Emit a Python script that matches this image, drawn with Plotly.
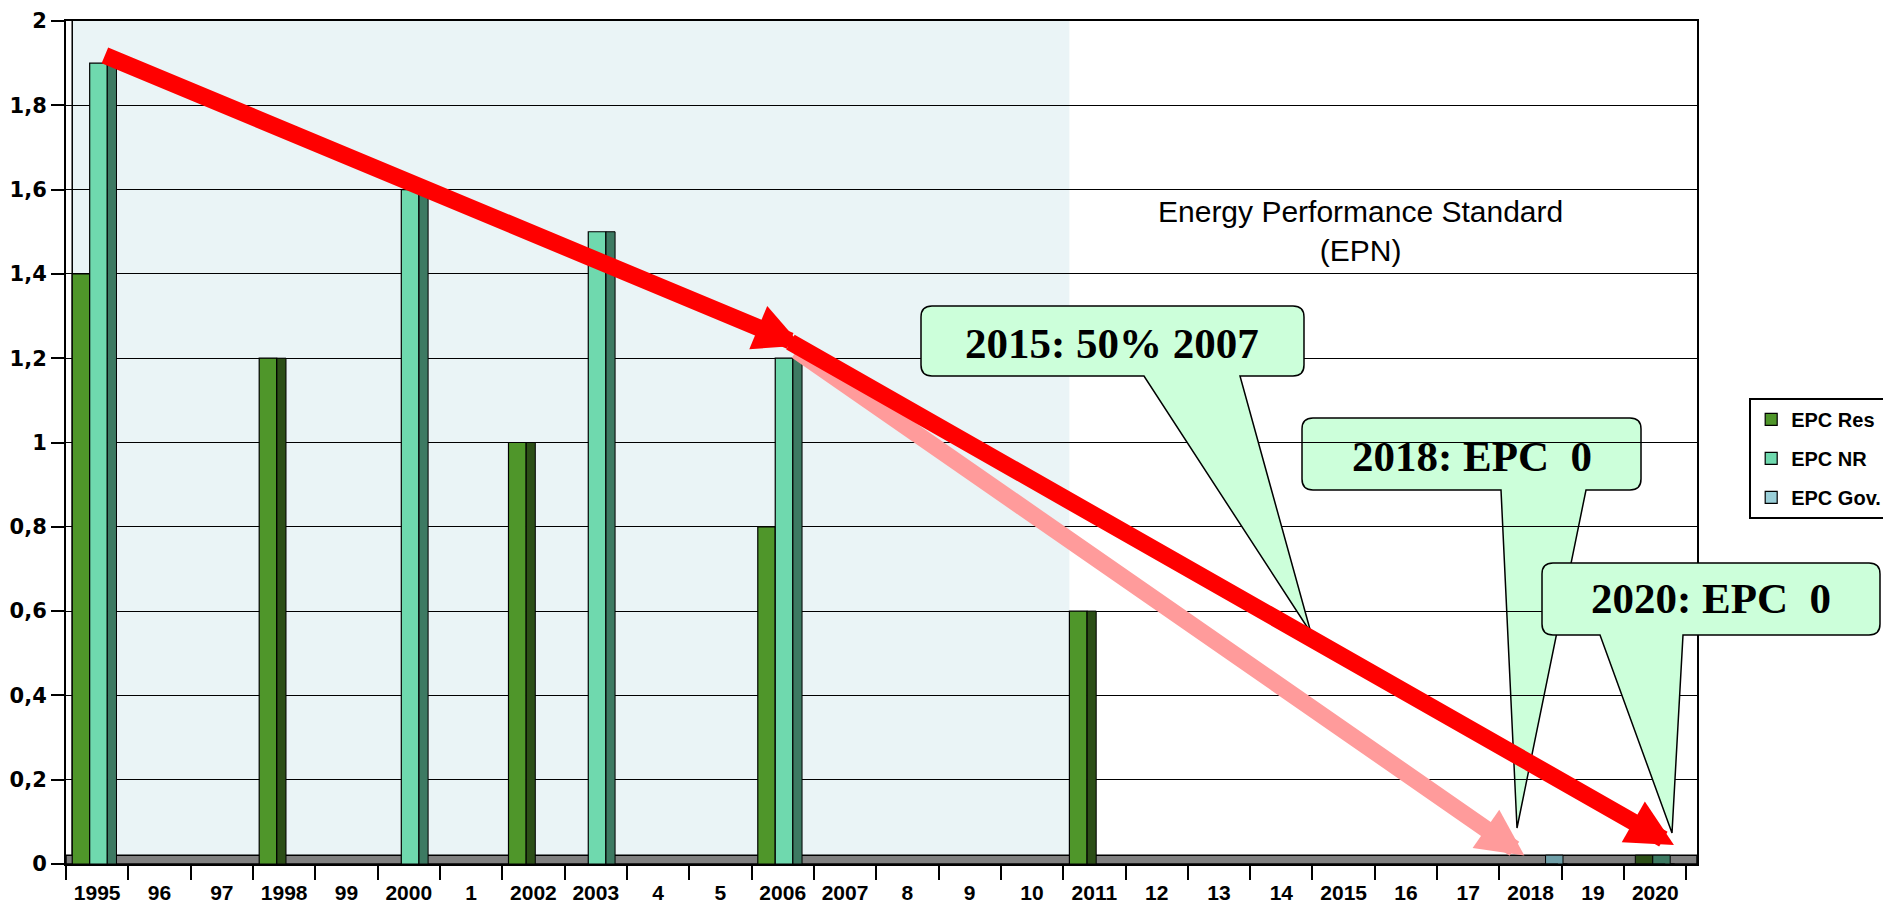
import plotly.graph_objects as go

# categories and labels
years = list(range(1995, 2021))
tick_labels = ["1995", "96", "97", "1998", "99", "2000", "1", "2002", "2003", "4", "5",
               "2006", "2007", "8", "9", "10", "2011", "12", "13", "14", "2015", "16",
               "17", "2018", "19", "2020"]

# series values (None = no bar, 0 = zero bar on the floor)
epc_res = [1.4, None, None, 1.2, None, None, None, 1.0, None, None, None, 0.8, None,
           None, None, None, 0.6, None, None, None, None, None, None, None, None, 0]
epc_nr = [1.9, None, None, None, None, 1.6, None, None, 1.5, None, None, 1.2, None,
          None, None, None, None, None, None, None, None, None, None, None, None, 0]
epc_gov = [None, None, None, None, None, None, None, None, None, None, None, None, None,
           None, None, None, None, None, None, None, None, None, None, 0, None, None]

series = [
    ("EPC Res", epc_res, "#4F962A", "#2C4F17", -0.40),
    ("EPC NR", epc_nr, "#6FD9AE", "#3D7A62", -0.12),
    ("EPC Gov.", epc_gov, "#9ACFD8", "#6F9FA8", 0.16),
]
BAR_W = 0.28
SIDE_W = 0.15
FLOOR = 0.021

fig = go.Figure()

for name, vals, face, side, off in series:
    # dark side of the 3d bar
    fig.add_trace(go.Bar(x=years, y=vals, offset=off + BAR_W, width=SIDE_W,
                         marker=dict(color=side, line=dict(color="black", width=1)),
                         showlegend=False, hoverinfo="skip"))
    # zero values only show as a patch on the floor
    patch = [FLOOR if v == 0 else None for v in vals]
    fig.add_trace(go.Bar(x=years, y=patch, base=0, offset=off + 0.08, width=BAR_W,
                         marker=dict(color=side, line=dict(color="black", width=1)),
                         showlegend=False, hoverinfo="skip"))

for name, vals, face, side, off in series:
    fig.add_trace(go.Bar(x=years, y=vals, name=name, offset=off, width=BAR_W,
                         legendgroup=name,
                         marker=dict(color=face, line=dict(color="black", width=1.2))))

# pixel frame of the plot area, used to place the callouts in paper units
L, R, T, B = 66, 1697, 21, 864


def px(x, y):
    return (x - L) / (R - L), (B - y) / (B - T)


def bubble(x0, y0, x1, y1, bx0, bx1, tx, ty, r=11):
    pts = [("M", x0 + r, y0), ("L", x1 - r, y0), ("Q", x1, y0, x1, y0 + r),
           ("L", x1, y1 - r), ("Q", x1, y1, x1 - r, y1), ("L", bx1, y1),
           ("L", tx, ty), ("L", bx0, y1), ("L", x0 + r, y1),
           ("Q", x0, y1, x0, y1 - r), ("L", x0, y0 + r), ("Q", x0, y0, x0 + r, y0)]
    out = ""
    for p in pts:
        cmd, coords = p[0], p[1:]
        s = []
        for i in range(0, len(coords), 2):
            a, b = px(coords[i], coords[i + 1])
            s.append(f"{a:.5f},{b:.5f}")
        out += cmd + " ".join(s) + " "
    return out + "Z"


shapes = [
    # light blue back wall part
    dict(type="rect", xref="x", yref="y", x0=1994.6, x1=2010.6, y0=0, y1=2,
         fillcolor="#EAF4F6", line=dict(width=0), layer="below"),
    # floor
    dict(type="rect", xref="x", yref="y", x0=1994.5, x1=2020.67, y0=0, y1=FLOOR,
         fillcolor="#808080", line=dict(color="black", width=1.5), layer="between"),
    dict(type="line", xref="x", yref="y", x0=1994.6, x1=1994.6, y0=FLOOR, y1=2,
         line=dict(color="black", width=1.5), layer="between"),
    # callouts
    dict(type="path", xref="paper", yref="paper",
         path=bubble(921, 306, 1304, 376, 1144, 1240, 1311, 633),
         fillcolor="#CCFFDA", line=dict(color="black", width=1.5), layer="above"),
    dict(type="path", xref="paper", yref="paper",
         path=bubble(1302, 418, 1641, 490, 1501, 1586, 1517, 828),
         fillcolor="#CCFFDA", line=dict(color="black", width=1.5), layer="below"),
    dict(type="path", xref="paper", yref="paper",
         path=bubble(1542, 563, 1880, 635, 1600, 1683, 1672, 833),
         fillcolor="#CCFFDA", line=dict(color="black", width=1.5), layer="above"),
]

callout_font = dict(family="Liberation Serif, Times New Roman", size=43, color="black", weight="bold")
annotations = []
for text, cx, cy in [("2015: 50% 2007", 1112, 343),
                     ("2018: EPC\u00a0 0", 1472, 456),
                     ("2020: EPC\u00a0 0", 1711, 598)]:
    ax_, ay_ = px(cx, cy)
    annotations.append(dict(text=text, x=ax_, y=ay_, xref="paper", yref="paper",
                            xanchor="center", yanchor="middle", showarrow=False,
                            font=callout_font))

ex, ey = px(1360, 231)
annotations.append(dict(text="Energy Performance Standard<br>(EPN)", x=ex, y=ey,
                        xref="paper", yref="paper", xanchor="center", yanchor="middle",
                        showarrow=False,
                        font=dict(family="Liberation Sans, Arial", size=30, color="black")))

# trend arrows (tail -> head, in data units)
arrows = [
    ((2006.2, 1.22), (2017.9, 0.02), "#FF9B9B"),
    ((2006.1, 1.24), (2020.3, 0.045), "#FF0000"),
    ((1995.1, 1.92), (2006.3, 1.23), "#FF0000"),
]
for (x0, y0), (x1, y1), col in arrows:
    annotations.append(dict(x=x1, y=y1, ax=x0, ay=y0, xref="x", yref="y",
                            axref="x", ayref="y", text="", showarrow=True,
                            arrowhead=2, arrowsize=0.55, arrowwidth=17,
                            arrowcolor=col, standoff=0, startstandoff=0))

bounds = [y - 0.5 for y in years] + [years[-1] + 0.5]

fig.update_layout(
    width=1883, height=906,
    margin=dict(l=L, r=1883 - R, t=T, b=906 - B, autoexpand=False),
    plot_bgcolor="white", paper_bgcolor="white",
    separators=", ",
    barmode="overlay",
    shapes=shapes,
    annotations=annotations,
    legend=dict(x=1.032, y=0.553, xanchor="left", yanchor="top",
                bordercolor="black", borderwidth=2, bgcolor="white",
                tracegroupgap=10,
                font=dict(family="Liberation Sans, Arial", size=20, color="black", weight="bold")),
    xaxis=dict(type="linear", range=[1994.5, 2020.67], tickmode="array",
               tickvals=years, ticktext=tick_labels, ticks="outside", ticklen=9,
               tickcolor="rgba(0,0,0,0)",
               minor=dict(tickmode="array", tickvals=bounds, ticks="outside", ticklen=14,
                          tickwidth=2, tickcolor="black", showgrid=False),
               showline=True, linecolor="black", linewidth=2, mirror=True,
               showgrid=False, zeroline=False,
               tickfont=dict(family="Liberation Sans, Arial", size=21, color="black", weight="bold")),
    yaxis=dict(range=[0, 2], tick0=0, dtick=0.2, ticks="outside", ticklen=13,
               tickwidth=2, tickcolor="black", showgrid=True, gridcolor="black",
               gridwidth=1.2, showline=True, linecolor="black", linewidth=2,
               mirror=True, zeroline=False,
               tickfont=dict(family="DejaVu Sans", size=21, color="black", weight="bold")),
)

fig.write_html("out.html", config={"displayModeBar": False},
               post_script="document.body.style.margin='0';")
